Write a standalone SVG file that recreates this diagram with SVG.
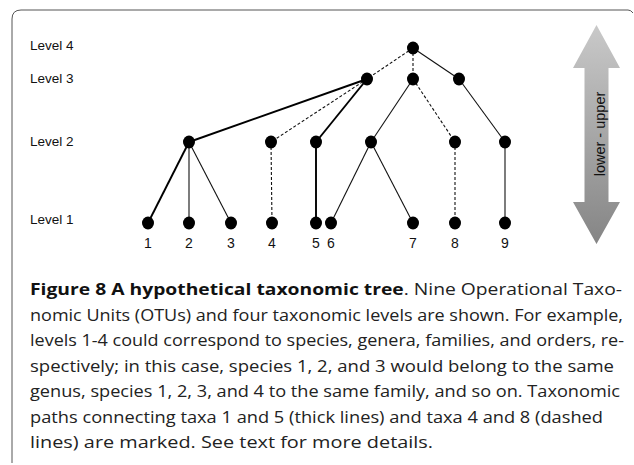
<svg xmlns="http://www.w3.org/2000/svg" width="634" height="465" viewBox="0 0 634 465">
<style>
.lvl{font-family:"Liberation Sans",Arial,sans-serif;font-size:13.5px;fill:#111}
.num{font-family:"Liberation Sans",Arial,sans-serif;font-size:14px;fill:#111;text-anchor:middle}
.cap{font-family:"Open Sans","Noto Sans",sans-serif;font-size:16.8px;fill:#222}
.b{font-weight:bold;fill:#111}
.thick{stroke:#000;stroke-width:1.9;fill:none}
.thin{stroke:#111;stroke-width:1.1;fill:none}
.dash{stroke:#111;stroke-width:1.1;fill:none;stroke-dasharray:3 2}
.node{fill:#000}
</style>
<defs>
<linearGradient id="g" x1="0" y1="0" x2="0" y2="1">
<stop offset="0" stop-color="#c9c9c9"/>
<stop offset="1" stop-color="#858585"/>
</linearGradient>
</defs>
<rect width="634" height="465" fill="#fff"/>
<path d="M12,463 L12,19 Q12,10 21,10 L628,10 Q631,10 633,13" fill="none" stroke="#555" stroke-width="1"/>
<g id="levels">
<text class="lvl" x="30" y="49.5">Level 4</text>
<text class="lvl" x="30" y="83">Level 3</text>
<text class="lvl" x="30" y="146">Level 2</text>
<text class="lvl" x="30" y="224">Level 1</text>
</g>
<g id="connectors">
<line class="dash" x1="413" y1="48" x2="367" y2="79"/>
<line class="dash" x1="413" y1="48" x2="413" y2="79"/>
<line class="thin" x1="413" y1="48" x2="459" y2="79"/>
<line class="thick" x1="367" y1="79" x2="189" y2="142"/>
<line class="dash" x1="367" y1="79" x2="271" y2="142"/>
<line class="thick" x1="367" y1="79" x2="316" y2="142"/>
<line class="thin" x1="413" y1="79" x2="371" y2="142"/>
<line class="dash" x1="413" y1="79" x2="455" y2="142"/>
<line class="thin" x1="459" y1="79" x2="505" y2="142"/>
<line class="thick" x1="189" y1="142" x2="148" y2="223"/>
<line class="thin" x1="189" y1="142" x2="189" y2="223"/>
<line class="thin" x1="189" y1="142" x2="231" y2="223"/>
<line class="dash" x1="271" y1="142" x2="272" y2="223"/>
<line class="thick" x1="316" y1="142" x2="316" y2="223"/>
<line class="thin" x1="371" y1="142" x2="331" y2="223"/>
<line class="thin" x1="371" y1="142" x2="413" y2="223"/>
<line class="dash" x1="455" y1="142" x2="455" y2="223"/>
<line class="thin" x1="505" y1="142" x2="505" y2="223"/>
</g>
<g id="n4"><ellipse class="node" cx="413" cy="48" rx="6" ry="6.5"/></g>
<g id="n3a"><ellipse class="node" cx="367" cy="79" rx="6" ry="6.5"/></g>
<g id="n3b"><ellipse class="node" cx="413" cy="79" rx="6" ry="6.5"/></g>
<g id="n3c"><ellipse class="node" cx="459" cy="79" rx="6" ry="6.5"/></g>
<g id="n2a"><ellipse class="node" cx="189" cy="142" rx="6" ry="6.5"/></g>
<g id="n2b"><ellipse class="node" cx="271" cy="142" rx="6" ry="6.5"/></g>
<g id="n2c"><ellipse class="node" cx="316" cy="142" rx="6" ry="6.5"/></g>
<g id="n2d"><ellipse class="node" cx="371" cy="142" rx="6" ry="6.5"/></g>
<g id="n2e"><ellipse class="node" cx="455" cy="142" rx="6" ry="6.5"/></g>
<g id="n2f"><ellipse class="node" cx="505" cy="142" rx="6" ry="6.5"/></g>
<g id="otu1"><ellipse class="node" cx="148" cy="223" rx="6" ry="6.5"/><text class="num" x="148" y="248">1</text></g>
<g id="otu2"><ellipse class="node" cx="189" cy="223" rx="6" ry="6.5"/><text class="num" x="189" y="248">2</text></g>
<g id="otu3"><ellipse class="node" cx="231" cy="223" rx="6" ry="6.5"/><text class="num" x="231" y="248">3</text></g>
<g id="otu4"><ellipse class="node" cx="272" cy="223" rx="6" ry="6.5"/><text class="num" x="272" y="248">4</text></g>
<g id="otu5"><ellipse class="node" cx="316" cy="223" rx="6" ry="6.5"/><text class="num" x="316" y="248">5</text></g>
<g id="otu6"><ellipse class="node" cx="331" cy="223" rx="6" ry="6.5"/><text class="num" x="331" y="248">6</text></g>
<g id="otu7"><ellipse class="node" cx="413" cy="223" rx="6" ry="6.5"/><text class="num" x="413" y="248">7</text></g>
<g id="otu8"><ellipse class="node" cx="455" cy="223" rx="6" ry="6.5"/><text class="num" x="455" y="248">8</text></g>
<g id="otu9"><ellipse class="node" cx="505" cy="223" rx="6" ry="6.5"/><text class="num" x="505" y="248">9</text></g>
<g id="scale-arrow">
<path d="M596.5,25 L620,68 L608.5,68 L608.5,202 L620,202 L596.5,244 L573,202 L584.5,202 L584.5,68 L573,68 Z" fill="url(#g)"/>
<text x="0" y="0" transform="translate(604.5,134) rotate(-90)" text-anchor="middle" font-family="Liberation Sans,Arial,sans-serif" font-size="14.5" fill="#111">lower - upper</text>
</g>
<g id="caption">
<text class="cap" x="30" y="295" textLength="592" lengthAdjust="spacingAndGlyphs"><tspan class="b">Figure 8 A hypothetical taxonomic tree</tspan>. Nine Operational Taxo-</text>
<text class="cap" x="30" y="320.5" textLength="593" lengthAdjust="spacingAndGlyphs">nomic Units (OTUs) and four taxonomic levels are shown. For example,</text>
<text class="cap" x="30" y="346" textLength="594" lengthAdjust="spacingAndGlyphs">levels 1-4 could correspond to species, genera, families, and orders, re-</text>
<text class="cap" x="30" y="371.5" textLength="584" lengthAdjust="spacingAndGlyphs">spectively; in this case, species 1, 2, and 3 would belong to the same</text>
<text class="cap" x="30" y="397" textLength="590" lengthAdjust="spacingAndGlyphs">genus, species 1, 2, 3, and 4 to the same family, and so on. Taxonomic</text>
<text class="cap" x="30" y="422.5" textLength="573" lengthAdjust="spacingAndGlyphs">paths connecting taxa 1 and 5 (thick lines) and taxa 4 and 8 (dashed</text>
<text class="cap" x="30" y="448" textLength="403" lengthAdjust="spacingAndGlyphs">lines) are marked. See text for more details.</text>
</g>
</svg>
